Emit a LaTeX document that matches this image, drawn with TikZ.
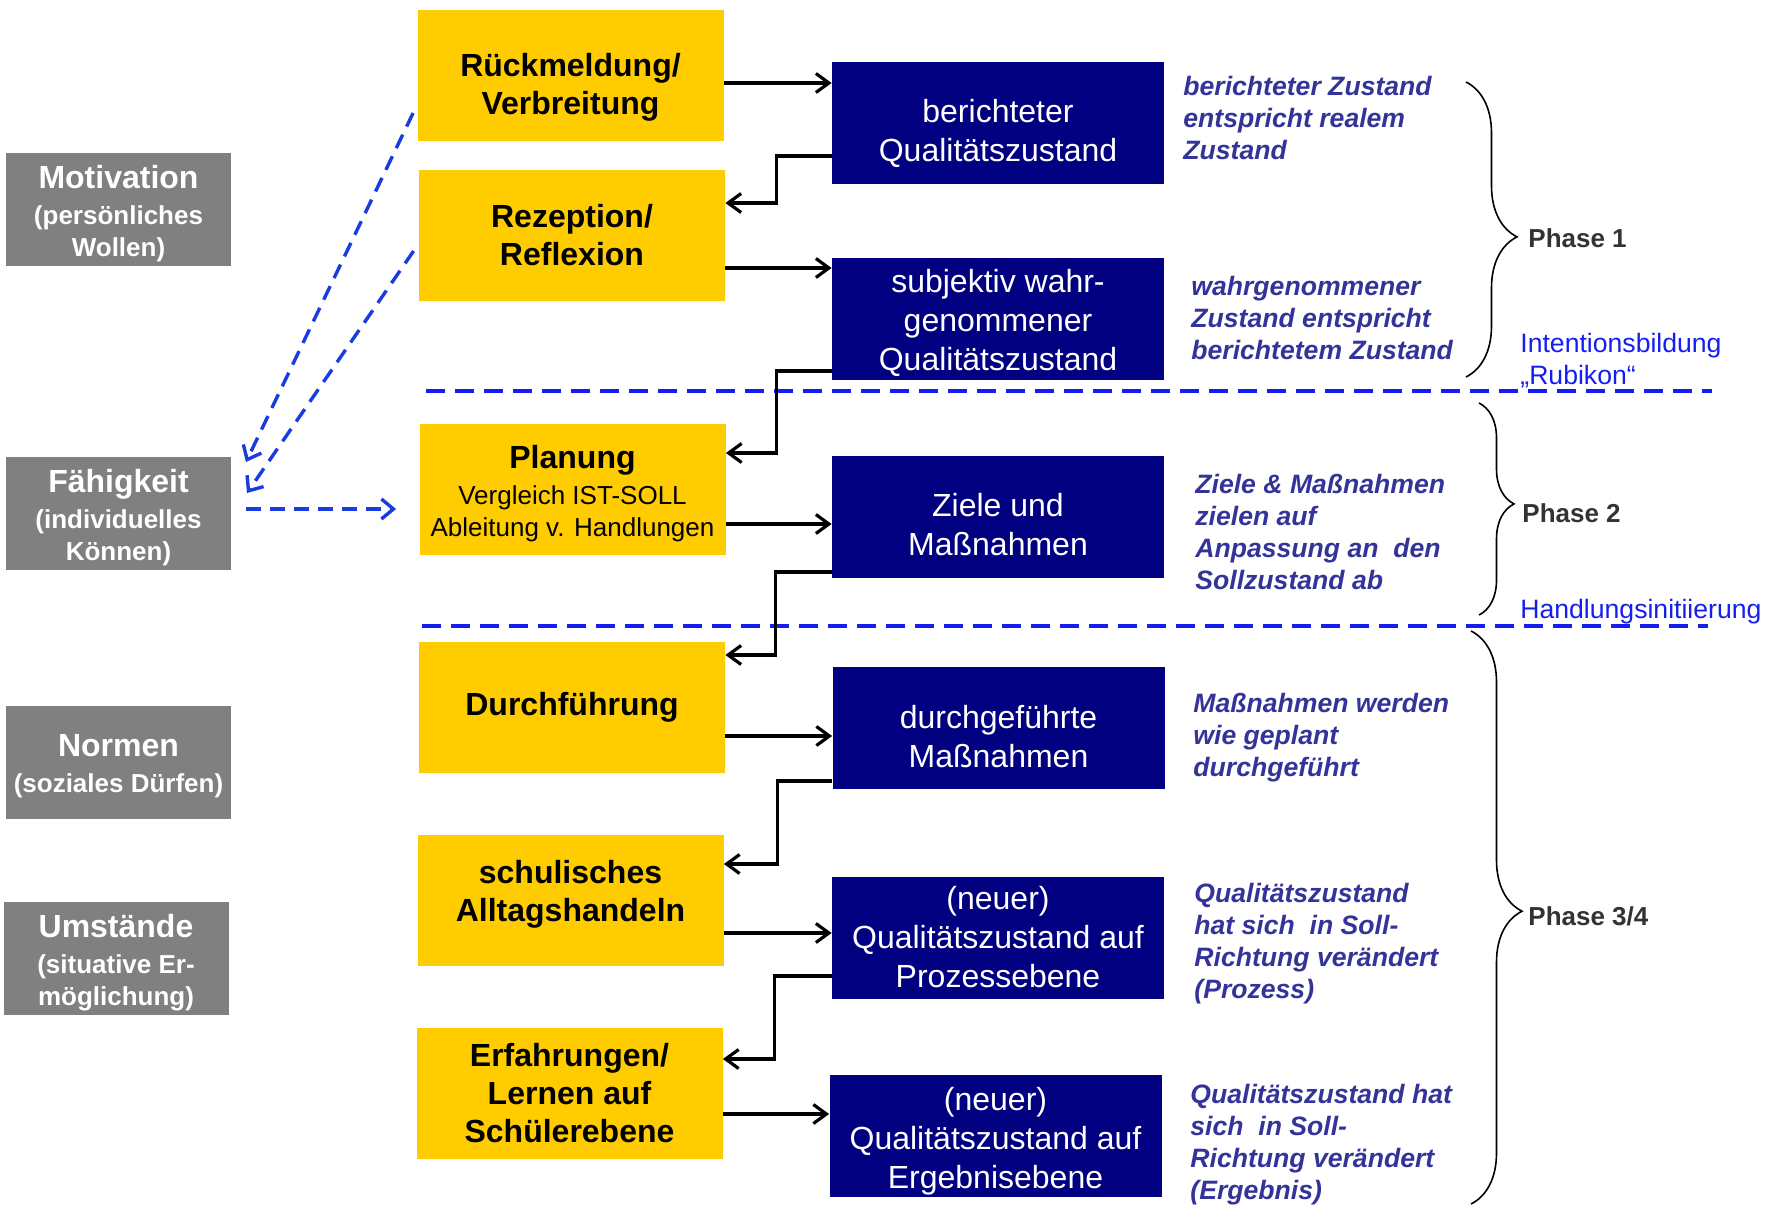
\documentclass[tikz,border=0pt]{standalone}
\usepackage{fontspec}
\setmainfont{Liberation Sans}
\usetikzlibrary{arrows.meta,calc,decorations.pathreplacing}
\definecolor{gelb}{RGB}{255,204,0}
\definecolor{marine}{RGB}{0,0,128}
\definecolor{grau}{RGB}{128,128,128}
\definecolor{lila}{RGB}{51,51,153}
\definecolor{strich}{RGB}{20,30,240}
\definecolor{pfeilblau}{RGB}{25,60,225}
\definecolor{dunkel}{RGB}{51,51,51}
\newcommand\oben[1]{\rule{0pt}{#1}}
\newcommand\unten[1]{\rule[-#1]{0pt}{0pt}}

\begin{document}
\begin{tikzpicture}[x=0.5pt, y=-0.5pt,
    yellow node/.style={rectangle, fill=gelb, inner sep=0pt, minimum width=153pt, minimum height=65.5pt,
                        align=center, font=\fontsize{16}{19}\selectfont\bfseries},
    blue node/.style={rectangle, fill=marine, text=white, inner sep=0pt, minimum width=166pt, minimum height=61pt,
                      align=center, font=\fontsize{16}{19.5}\selectfont},
    gray node/.style={rectangle, fill=grau, text=white, inner sep=0pt, minimum width=112.5pt, minimum height=56.5pt,
                      align=center, font=\fontsize{13}{16}\selectfont\bfseries},
    note/.style={text=lila, anchor=west, inner sep=0pt, align=left, font=\fontsize{13.3}{16}\selectfont\bfseries\itshape},
    phase/.style={text=dunkel, anchor=west, inner sep=0pt, font=\fontsize{13}{16}\selectfont\bfseries},
    rubikon/.style={text=strich, anchor=west, inner sep=0pt, align=left, font=\fontsize{13.3}{16}\selectfont},
    arr/.style={line width=1.6pt, -{Straight Barb[length=6.5pt,width=9.5pt]}},
    dash arrow/.style={pfeilblau, line width=1.7pt, dash pattern=on 7.5pt off 4.5pt, -{Straight Barb[length=6pt,width=10pt]}},
    sep line/.style={strich, line width=1.6pt, dash pattern=on 9.5pt off 5pt},
    brace line/.style={decorate, line width=0.8pt}]

  \useasboundingbox (0,0) rectangle (1768,1210);

  \node[gray node] (motiv) at (118.5,209.5) {{\fontsize{16}{16}\selectfont\oben{15.5pt}Motivation}\\[2pt](persönliches\\Wollen)};
  \node[gray node] (faehig) at (118.5,513) {{\fontsize{16}{16}\selectfont\oben{16pt}Fähigkeit}\\[2pt](individuelles\\Können)};
  \node[gray node] (normen) at (118.5,762) {{\fontsize{16}{16}\selectfont\oben{15.5pt}Normen}\\[2pt](soziales Dürfen)};
  \node[gray node] (umst) at (116,958.5) {{\fontsize{16}{16}\selectfont\oben{16pt}Umstände}\\[2pt](situative Er-\\möglichung)};

  \node[yellow node] (rueck) at (570.5,75.5) {\oben{23pt}Rückmeldung/\\Verbreitung};
  \node[yellow node] (rezep) at (572,235) {Rezeption/\\Reflexion};
  \node[yellow node] (plan) at (572.5,489.5) {\oben{16pt}Planung\\[-1pt]{\mdseries\fontsize{13}{15.5}\selectfont Vergleich IST-SOLL}\\[-3pt]{\mdseries\fontsize{13}{15.5}\selectfont Ableitung v. Handlungen}};
  \node[yellow node] (durch) at (572,707.5) {Durchführung};
  \node[yellow node] (alltag) at (570.5,900.5) {schulisches\\Alltagshandeln\unten{10pt}};
  \node[yellow node] (lernen) at (569.5,1093.5) {Erfahrungen/\\Lernen auf\\Schülerebene};

  \node[blue node] (bericht) at (998,122.5) {\oben{22.8pt}berichteter\\Qualitätszustand};
  \node[blue node] (subj) at (998,318.5) {\oben{15.7pt}subjektiv wahr-\\genommener\\Qualitätszustand};
  \node[blue node] (ziele) at (998,516.5) {\oben{19.5pt}Ziele und\\Maßnahmen};
  \node[blue node] (massn) at (998.5,727.5) {\oben{20.5pt}durchgeführte\\Maßnahmen};
  \node[blue node] (prozess) at (998,937.5) {(neuer)\\Qualitätszustand auf\\Prozessebene};
  \node[blue node] (ergebnis) at (995.5,1135.5) {\oben{17.3pt}(neuer)\\Qualitätszustand auf\\Ergebnisebene};

  \node[note] (n1) at (1183,117.5) {berichteter Zustand\\entspricht realem\\Zustand};
  \node[note] (n2) at (1191,318) {wahrgenommener\\Zustand entspricht\\berichtetem Zustand};
  \node[note] (n3) at (1195,532) {Ziele \& Maßnahmen\\zielen auf\\Anpassung an\ \ den\\Sollzustand ab};
  \node[note] (n4) at (1193,738) {Maßnahmen werden\\wie geplant\\durchgeführt};
  \node[note] (n5) at (1194,944) {Qualitätszustand\\hat sich\ \ in Soll-\\Richtung verändert\\(Prozess)};
  \node[note] (n6) at (1190,1145) {Qualitätszustand hat\\sich\ \ in Soll-\\Richtung verändert\\(Ergebnis)};

  \node[phase] (ph1) at (1528,238) {Phase 1};
  \node[phase] (ph2) at (1522,513) {Phase 2};
  \node[phase] (ph3) at (1528,916) {Phase 3/4};
  \node[rubikon] (intent) at (1520,361) {Intentionsbildung\\„Rubikon“};
  \node[rubikon] (init) at (1520,612) {Handlungsinitiierung};

  \draw[sep line] (426,391) -- (1712,391);
  \draw[sep line] (422,626) -- (1708,626);

  \path[arr]
    (rueck.east |- 0,83) edge (bericht.west |- 0,83)
    (rezep.east |- 0,268) edge (subj.west |- 0,268)
    (plan.east |- 0,524) edge (ziele.west |- 0,524)
    (durch.east |- 0,736) edge (massn.west |- 0,736)
    (alltag.east |- 0,933) edge (prozess.west |- 0,933)
    (lernen.east |- 0,1114) edge (ergebnis.west |- 0,1114);

  \draw[arr] (bericht.west |- 0,156) -- ++(-55,0) |- (rezep.east |- 0,203);
  \draw[arr] (subj.west |- 0,371) -- ++(-55,0) |- (plan.east |- 0,453);
  \draw[arr] (ziele.west |- 0,572) -- ++(-56,0) |- (durch.east |- 0,655);
  \draw[arr] (massn.west |- 0,781) -- ++(-55,0) |- (alltag.east |- 0,864);
  \draw[arr] (prozess.west |- 0,976) -- ++(-57,0) |- (lernen.east |- 0,1059);

  \coordinate (t1) at (246,462);
  \coordinate (t2) at (247,493);
  \draw[dash arrow] ($(rueck.west |- 0,113)+(-4,0)$) -- (t1);
  \draw[dash arrow] ($(rezep.west |- 0,251)+(-5,0)$) -- (t2);
  \draw[dash arrow] ($(faehig.east |- 0,509)+(15,0)$) -- ($(plan.west |- 0,509)+(-23,0)$);

  \draw[brace line, decoration={brace, amplitude=25.5pt, aspect=0.525}] (1466,82) -- (1466,377);
  \draw[brace line, decoration={brace, amplitude=17.5pt, aspect=0.476}] (1479,403) -- (1479,615);
  \draw[brace line, decoration={brace, amplitude=25.5pt, aspect=0.489}] (1471,631) -- (1471,1204);
\end{tikzpicture}
\end{document}
